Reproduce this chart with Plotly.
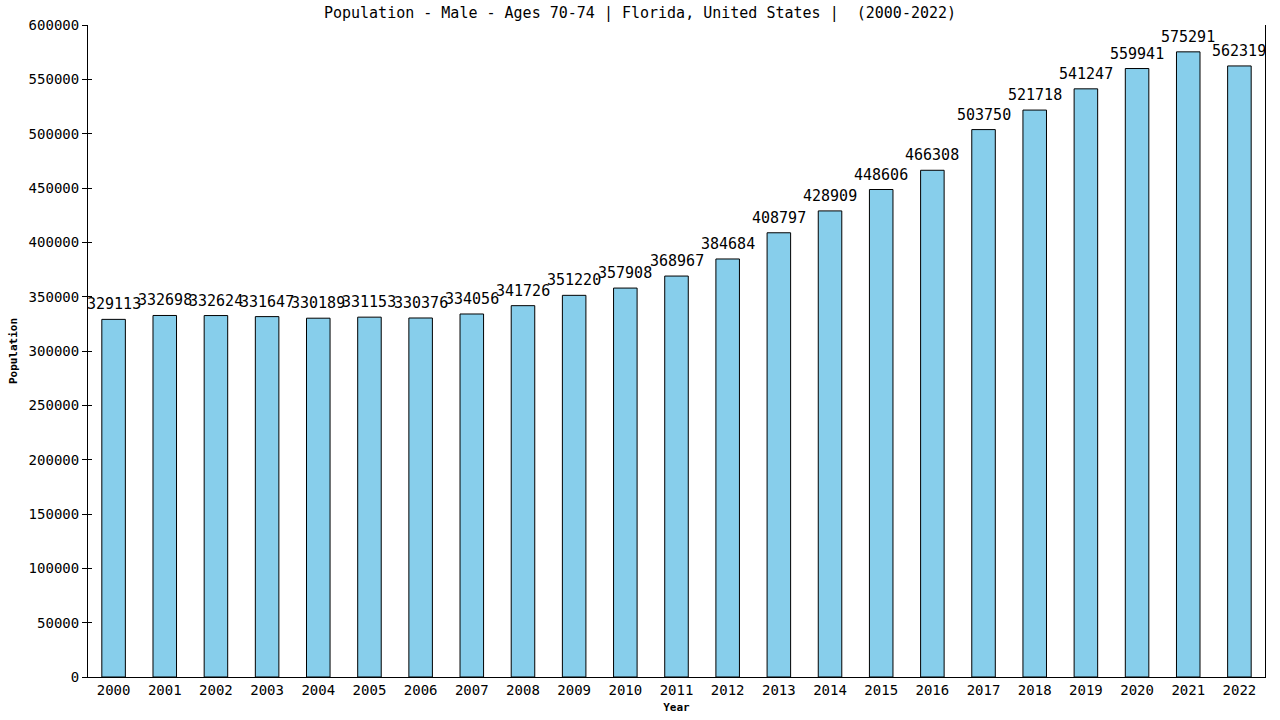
import plotly.graph_objects as go

years = [str(y) for y in range(2000, 2023)]
population = [329113, 332698, 332624, 331647, 330189, 331153, 330376, 334056, 341726,
              351220, 357908, 368967, 384684, 408797, 428909, 448606, 466308, 503750,
              521718, 541247, 559941, 575291, 562319]
title_text = "Population - Male - Ages 70-74 | Florida, United States |  (2000-2022)"
y_ticks = list(range(0, 600001, 50000))

FONT = "DejaVu Sans Mono"

fig = go.Figure()
fig.add_trace(go.Bar(
    x=years, y=population,
    marker=dict(color="#87CEEB", line=dict(color="black", width=1)),
    width=0.46,
    cliponaxis=False,
))
# invisible helper trace on overlaid axis for inner tick marks
fig.add_trace(go.Scatter(x=[years[0]], y=[0], yaxis="y2", mode="markers",
                         marker=dict(opacity=0), hoverinfo="skip", showlegend=False))

# value labels above bars (category axis positions given by index)
for i, v in enumerate(population):
    fig.add_annotation(x=i, y=v, xref="x", yref="y", text=str(v), showarrow=False,
                       yanchor="bottom", yshift=4,
                       font=dict(family=FONT, size=15, color="black"))

fig.update_layout(
    width=1280, height=720,
    paper_bgcolor="white", plot_bgcolor="white",
    margin=dict(l=88, r=15, t=25, b=43, autoexpand=False),
    showlegend=False,
    title=dict(text=title_text, x=0.5, xanchor="center", y=1 - 13 / 720, yanchor="middle",
               font=dict(family=FONT, size=15, color="black"), automargin=False),
    font=dict(family=FONT, size=14, color="black"),
    xaxis=dict(
        type="category", range=[-0.5, 22.5], automargin=False,
        showline=True, linecolor="black", linewidth=1,
        ticks="", showgrid=False,
        tickfont=dict(family=FONT, size=14, color="black"),
        title=dict(text="<b>Year</b>", font=dict(family=FONT, size=11, color="black"), standoff=6),
    ),
    yaxis=dict(
        range=[0, 600000], tickvals=y_ticks, ticktext=[str(v) for v in y_ticks],
        showline=True, linecolor="black", linewidth=1, mirror=True,
        ticks="outside", ticklen=5, tickcolor="black",
        showgrid=False, zeroline=False, automargin=False,
        tickfont=dict(family=FONT, size=14, color="black"),
        title=dict(text="<b>Population</b>", font=dict(family=FONT, size=11, color="black"), standoff=8),
    ),
    yaxis2=dict(overlaying="y", side="left", range=[0, 600000], tickvals=y_ticks,
                showticklabels=False, ticks="inside", ticklen=4, tickcolor="black",
                showline=False, showgrid=False, zeroline=False, automargin=False),
)

fig.write_html("out.html", config={"displayModeBar": False},
               post_script="document.body.style.margin='0';")
